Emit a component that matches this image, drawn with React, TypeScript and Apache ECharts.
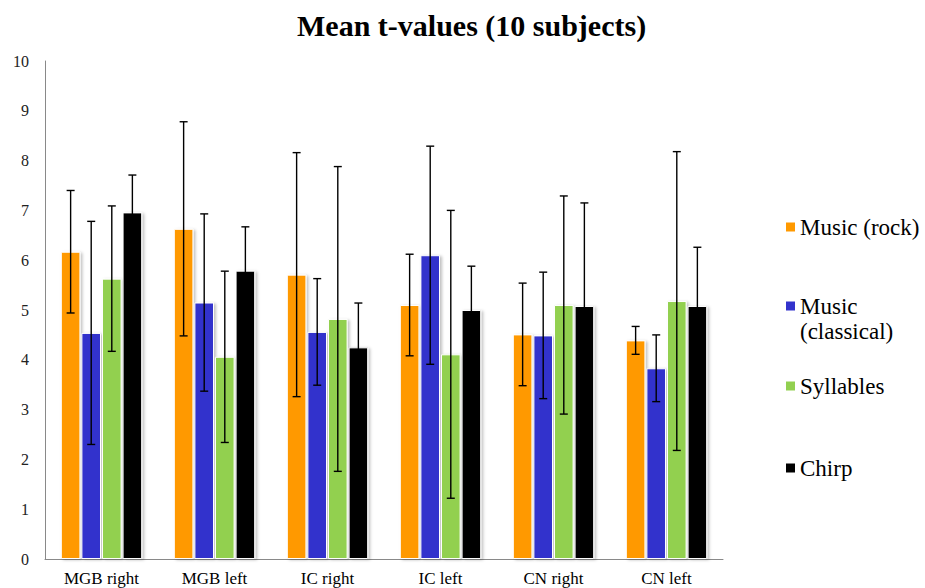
import React, { useEffect, useRef } from "react";
import * as echarts from "echarts";

// Regions of interest and mean t-values per stimulus, with error half-widths
const categories = ["MGB right", "MGB left", "IC right", "IC left", "CN right", "CN left"];

const rock = [6.17, 6.63, 5.71, 5.1, 4.51, 4.39];
const rockErr = [1.23, 2.15, 2.45, 1.02, 1.03, 0.28];

const classical = [4.54, 5.15, 4.56, 6.1, 4.49, 3.83];
const classicalErr = [2.24, 1.78, 1.07, 2.19, 1.27, 0.67];

const syllables = [5.63, 4.06, 4.82, 4.11, 5.1, 5.18];
const syllablesErr = [1.46, 1.72, 3.06, 2.89, 2.19, 3.0];

const chirp = [6.96, 5.79, 4.25, 5.0, 5.08, 5.08];
const chirpErr = [0.75, 0.88, 0.89, 0.88, 2.07, 1.18];

const seriesNames = ["Music (rock)", "Music (classical)", "Syllables", "Chirp"];
const legendLabels = ["Music (rock)", "Music\n(classical)", "Syllables", "Chirp"];
const seriesColors = ["#FF9900", "#3333CC", "#92D050", "#000000"];
const seriesValues = [rock, classical, syllables, chirp];
const seriesErrors = [rockErr, classicalErr, syllablesErr, chirpErr];

const yTicks = [0, 10, 1]; // min, max, interval

const CATEGORY_GAP = 0.28;
const BAR_GAP = 0.05;
const SERIF = "Liberation Serif";

export default function App() {
  const ref = useRef<HTMLDivElement>(null);

  useEffect(() => {
    if (!ref.current) return;
    const chart = echarts.init(ref.current, undefined, { renderer: "svg" });

    const errorData: number[][] = [];
    seriesValues.forEach((vals, s) => {
      vals.forEach((v, c) => errorData.push([c, v, seriesErrors[s][c], s]));
    });

    const nSeries = seriesValues.length;

    const barSeries = seriesValues.map((vals, i) => ({
      name: seriesNames[i],
      type: "bar",
      data: vals,
      barGap: `${BAR_GAP * 100}%`,
      barCategoryGap: `${CATEGORY_GAP * 100}%`,
      itemStyle: {
        color: seriesColors[i],
        borderColor: "#ffffff",
        borderWidth: 1,
        shadowColor: "rgba(0,0,0,0.25)",
        shadowBlur: 3,
        shadowOffsetX: 2,
        shadowOffsetY: 1,
      },
    }));

    const errorSeries = {
      type: "custom",
      z: 10,
      silent: true,
      encode: { x: 0, y: 1 },
      data: errorData,
      renderItem: (_params: any, api: any) => {
        const c = api.value(0);
        const v = api.value(1);
        const e = api.value(2);
        const s = api.value(3);
        const band = api.size([1, 0])[0];
        const groupW = band * (1 - CATEGORY_GAP);
        const w = groupW / (nSeries + (nSeries - 1) * BAR_GAP);
        const center = api.coord([c, v]);
        const x = center[0] - groupW / 2 + w / 2 + s * w * (1 + BAR_GAP);
        const yTop = api.coord([c, v + e])[1];
        const yBot = api.coord([c, v - e])[1];
        const cap = 4;
        const style = { stroke: "#000000", lineWidth: 1.4 };
        return {
          type: "group",
          children: [
            { type: "line", shape: { x1: x, y1: yTop, x2: x, y2: yBot }, style },
            { type: "line", shape: { x1: x - cap, y1: yTop, x2: x + cap, y2: yTop }, style },
            { type: "line", shape: { x1: x - cap, y1: yBot, x2: x + cap, y2: yBot }, style },
          ],
        };
      },
    };

    // Legend: colour swatches as graphics, labels as text blocks beside them
    const LH = 25;
    const legendCenters = [227, 306, 386, 468];
    const swatches = seriesNames.map((_n, i) => ({
      type: "rect",
      x: 786,
      y: legendCenters[i] - 4.5,
      shape: { x: 0, y: 0, width: 9, height: 9 },
      style: { fill: seriesColors[i] },
      silent: true,
    }));
    const legendTitles = legendLabels.map((label, i) => ({
      text: label,
      left: 800,
      top: legendCenters[i] - LH / 2,
      padding: 0,
      textStyle: {
        fontFamily: SERIF,
        fontWeight: "normal",
        fontSize: 23,
        lineHeight: LH,
        color: "#000000",
      },
    }));

    chart.setOption({
      animation: false,
      backgroundColor: "#ffffff",
      textStyle: { fontFamily: SERIF },
      title: [
        {
          text: "Mean t-values (10 subjects)",
          left: 297,
          top: 10,
          padding: 0,
          textStyle: {
            fontFamily: SERIF,
            fontWeight: "bold",
            fontSize: 30,
            color: "#000000",
          },
        },
        ...legendTitles,
      ],
      graphic: swatches,
      grid: { left: 45, right: 202, top: 61, bottom: 29, containLabel: false },
      xAxis: {
        type: "category",
        data: categories,
        axisLine: { show: true, lineStyle: { color: "#898989", width: 1 } },
        axisTick: { show: false },
        axisLabel: {
          fontFamily: SERIF,
          fontSize: 17,
          color: "#000000",
          margin: 11,
        },
      },
      yAxis: {
        type: "value",
        min: yTicks[0],
        max: yTicks[1],
        interval: yTicks[2],
        axisLine: { show: true, lineStyle: { color: "#898989", width: 1 } },
        axisTick: { show: false },
        splitLine: { show: false },
        axisLabel: {
          fontFamily: SERIF,
          fontSize: 16,
          color: "#222222",
          margin: 16,
        },
      },
      series: [...barSeries, errorSeries],
    });

    return () => chart.dispose();
  }, []);

  return (
    <div
      ref={ref}
      style={{ position: "fixed", left: 0, top: 0, width: 925, height: 588, background: "#fff" }}
    />
  );
}
